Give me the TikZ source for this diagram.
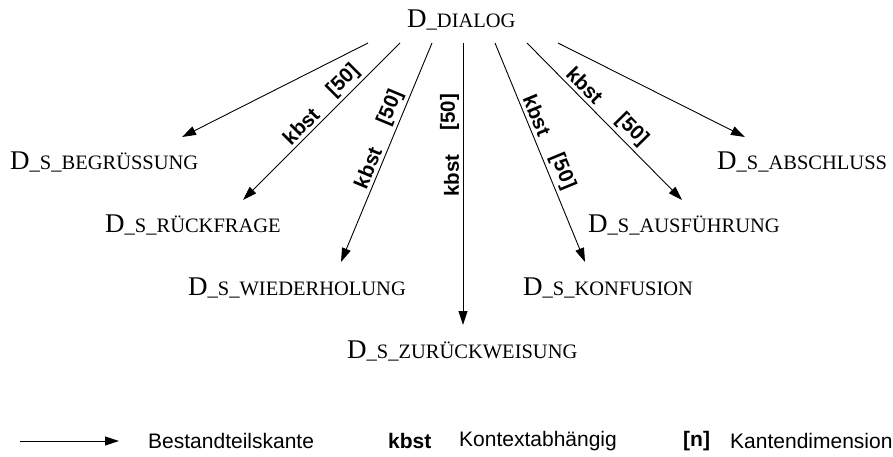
\documentclass[tikz,border=0pt]{standalone}
\usepackage{fontspec}
\setmainfont{Liberation Serif}
\setsansfont{Liberation Sans}
\usetikzlibrary{arrows.meta,calc}

% big initial D followed by a small-caps style remainder
\newcommand{\dname}[1]{{\fontsize{27}{27}\selectfont D}{\fontsize{20.5}{20.5}\selectfont\_#1}}

\begin{document}
\begin{tikzpicture}[x=1pt,y=-1pt,
  dn/.style={anchor=base west, inner sep=0pt},
  tip/.style={-{Triangle[length=14pt,width=9pt]}, line width=0.9pt},
  pit/.style={{Triangle[length=14pt,width=9pt]}-, line width=0.9pt},
  lbl/.style={font=\sffamily\bfseries\fontsize{20.5}{20.5}\selectfont, sloped, above, inner sep=3.5pt},
  leg/.style={anchor=west, inner sep=0pt, font=\sffamily\fontsize{21}{21}\selectfont},
  legb/.style={leg, font=\sffamily\bfseries\fontsize{21}{21}\selectfont}]
\useasboundingbox (0,0) rectangle (893,457);

% dialogue nodes
\node[dn] (dialog) at (407,28) {\dname{DIALOG}};
\node[dn] (beg) at (10,169) {\dname{S\_BEGRÜSSUNG}};
\node[dn] (rue) at (105,232) {\dname{S\_RÜCKFRAGE}};
\node[dn] (wie) at (188,295) {\dname{S\_WIEDERHOLUNG}};
\node[dn] (zur) at (347,358) {\dname{S\_ZURÜCKWEISUNG}};
\node[dn] (kon) at (523,295) {\dname{S\_KONFUSION}};
\node[dn] (aus) at (588,232) {\dname{S\_AUSFÜHRUNG}};
\node[dn] (abs) at (717,170) {\dname{S\_ABSCHLUSS}};

% edge start points below the parent and arrow tips above the children
\coordinate (s1) at (368,43); \coordinate (t1) at (182,137);
\coordinate (s2) at (400,43); \coordinate (t2) at (243,200);
\coordinate (s3) at (432,43); \coordinate (t3) at (341,262);
\coordinate (s4) at (463,43); \coordinate (t4) at (463,325);
\coordinate (s5) at (495,43); \coordinate (t5) at (585,262);
\coordinate (s6) at (527,43); \coordinate (t6) at (682,200);
\coordinate (s7) at (558,43); \coordinate (t7) at (745,137);

\draw[tip] (s1) -- (t1);
\draw[pit] (t2) -- (s2)
  node[lbl, pos=.42] {kbst} node[lbl, pos=.70] {[50]};
\draw[pit] (t3) -- (s3)
  node[lbl, pos=.41] {kbst} node[lbl, pos=.68] {[50]};
\draw[pit] (t4) -- (s4)
  node[lbl, pos=.53] {kbst} node[lbl, pos=.755] {[50]};
\draw[tip] (s5) -- (t5)
  node[lbl, pos=.35] {kbst} node[lbl, pos=.61] {[50]};
\draw[tip] (s6) -- (t6)
  node[lbl, pos=.32] {kbst} node[lbl, pos=.615] {[50]};
\draw[tip] (s7) -- (t7);

% legend
\coordinate (la) at (20,441); \coordinate (lb) at (119,441);
\draw[tip] (la) -- (lb);
\node[leg] (l1) at (148,441) {Bestandteilskante};
\node[legb] (l2) at (388,441) {kbst};
\node[leg] (l3) at (459,441) {Kontextabhängig};
\node[legb] (l4) at (683,441) {[n]};
\node[leg] (l5) at (730,441) {Kantendimension};
\end{tikzpicture}
\end{document}
